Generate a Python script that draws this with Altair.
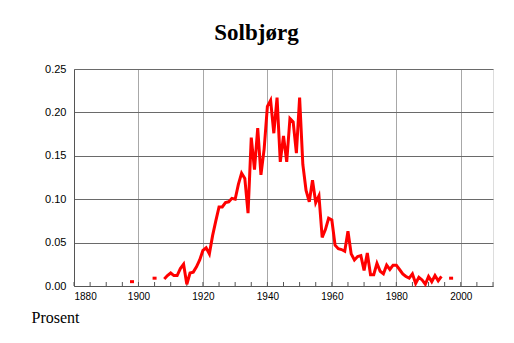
import altair as alt
import pandas as pd

# Main continuous series (years 1908-1994)
years = list(range(1908, 1995))
values = [
    0.008, 0.012, 0.015, 0.012, 0.012, 0.020, 0.025, 0.002, 0.015, 0.016,   # 1908-1917
    0.022, 0.030, 0.041, 0.044, 0.037, 0.058, 0.075, 0.091, 0.091, 0.096,   # 1918-1927
    0.097, 0.101, 0.100, 0.117, 0.130, 0.124, 0.084, 0.171, 0.134, 0.182,   # 1928-1937
    0.128, 0.158, 0.207, 0.214, 0.176, 0.217, 0.143, 0.173, 0.143, 0.193,   # 1938-1947
    0.189, 0.153, 0.217, 0.140, 0.110, 0.097, 0.122, 0.096, 0.104, 0.056,   # 1948-1957
    0.065, 0.078, 0.076, 0.047, 0.043, 0.042, 0.040, 0.063, 0.037, 0.030,   # 1958-1967
    0.034, 0.035, 0.018, 0.038, 0.013, 0.013, 0.026, 0.017, 0.014, 0.024,   # 1968-1977
    0.019, 0.024, 0.024, 0.019, 0.014, 0.011, 0.009, 0.014, 0.003, 0.010,   # 1978-1987
    0.007, 0.002, 0.011, 0.005, 0.012, 0.006, 0.011,                        # 1988-1994
]
assert len(years) == len(values)

# Isolated single-year observations
iso_years = [1898, 1905, 1997]
iso_values = [0.005, 0.009, 0.009]

x_labels = [1880, 1900, 1920, 1940, 1960, 1980, 2000]
y_labels = [0.0, 0.05, 0.10, 0.15, 0.20, 0.25]
minor_years = list(range(1880, 2011, 5))

title_text = "Solbjørg"
ylabel_text = "Prosent"

W, H = 419, 217
LEFT, TOP = 74, 69

df = pd.DataFrame({"year": years, "value": values})
iso = pd.DataFrame({"year": iso_years, "value": iso_values})
minor = pd.DataFrame({"year": minor_years})

xscale = alt.Scale(domain=[1880, 2010], nice=False, zero=False)
yscale = alt.Scale(domain=[0, 0.25], nice=False)

xaxis = alt.Axis(values=x_labels, format="d", title=None, grid=True,
                 gridColor="#a8a8a8", gridWidth=1, ticks=False,
                 labelPadding=5, labelFontSize=10, labelFont="Liberation Sans",
                 labelColor="black", domainColor="#555555", domainWidth=1)
yaxis = alt.Axis(values=y_labels, format=".2f", title=None, grid=True,
                 gridColor="#6a6a6a", gridWidth=1, ticks=False,
                 labelPadding=8, labelFontSize=11, labelFont="Liberation Sans",
                 labelColor="black", domainColor="#555555", domainWidth=1)

line = alt.Chart(df).mark_line(color="#ff0000", strokeWidth=3).encode(
    x=alt.X("year:Q", scale=xscale, axis=xaxis),
    y=alt.Y("value:Q", scale=yscale, axis=yaxis),
)

dots = alt.Chart(iso).mark_tick(color="#ff0000", orient="horizontal",
                                size=4, thickness=3, opacity=1).encode(
    x=alt.X("year:Q", scale=xscale),
    y=alt.Y("value:Q", scale=yscale),
)

ticks = alt.Chart(minor).mark_rule(color="#555555", strokeWidth=1).encode(
    x=alt.X("year:Q", scale=xscale),
    y=alt.value(H),
    y2=alt.value(H - 4),
)

title = alt.Chart(pd.DataFrame({"t": [title_text]})).mark_text(
    font="Liberation Serif", fontSize=23, fontWeight="bold", align="center",
    baseline="alphabetic", color="black"
).encode(text="t:N", x=alt.value(256.5 - LEFT), y=alt.value(39.5 - TOP))

ylab = alt.Chart(pd.DataFrame({"t": [ylabel_text]})).mark_text(
    font="Liberation Serif", fontSize=16, align="left",
    baseline="alphabetic", color="black"
).encode(text="t:N", x=alt.value(31.5 - LEFT), y=alt.value(322.5 - TOP))

chart = alt.layer(ticks, line, dots, title, ylab).properties(
    width=W, height=H,
    autosize=alt.AutoSizeParams(type="none"),
    padding={"left": LEFT, "top": TOP, "right": 514 - LEFT - W, "bottom": 343 - TOP - H},
).configure_view(stroke=None).configure(background="white")

chart.save("out.html", embed_options={"renderer": "svg", "actions": False})
